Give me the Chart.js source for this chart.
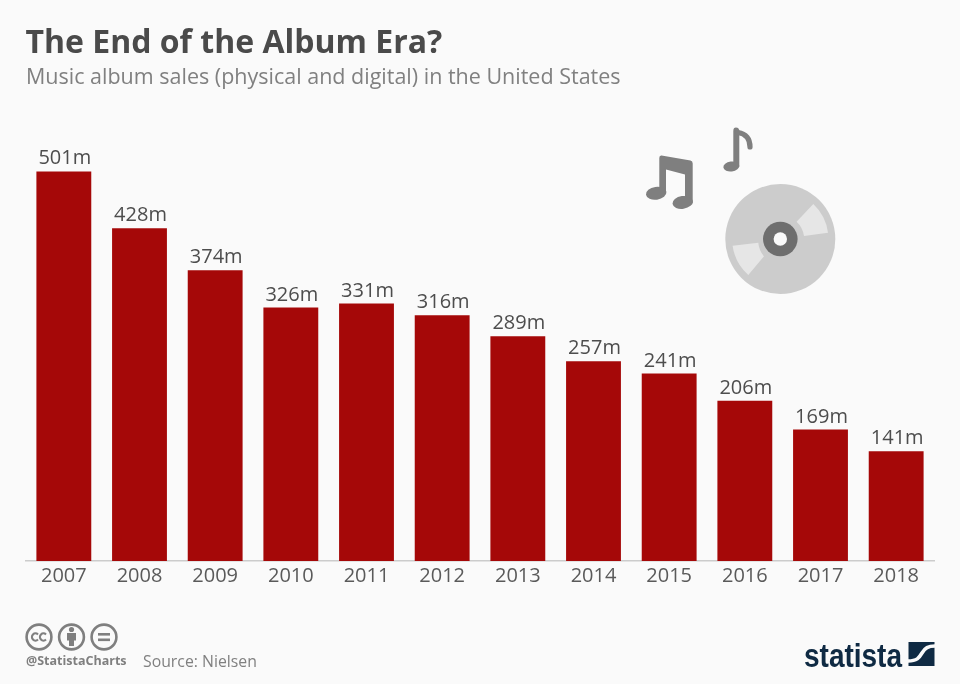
<!DOCTYPE html>
<html><head><meta charset="utf-8">
<script src="https://cdn.jsdelivr.net/npm/chart.js@4/dist/chart.umd.min.js"></script>
<style>
html,body{margin:0;padding:0;background:#fafafa;width:960px;height:684px;overflow:hidden;font-family:"Open Sans",sans-serif}
#wrap{position:relative;width:960px;height:684px}
canvas{position:absolute;left:0;top:0}
.t{position:absolute;white-space:nowrap;line-height:1}
svg{position:absolute;left:0;top:0}
</style></head><body>
<div id="wrap">
<canvas id="c" width="960" height="684"></canvas>
<div class="t" style="left:25.5px;top:25px;font-size:32px;font-weight:700;color:#4a4a4a">The End of the Album Era?</div>
<div class="t" style="left:26px;top:65px;font-size:21.5px;color:#808080">Music album sales (physical and digital) in the United States</div>
<div class="t" style="left:26px;top:655px;font-size:12.5px;font-weight:700;color:#7f7f7f">@StatistaCharts</div>
<div class="t" style="left:143px;top:654px;font-size:15.8px;color:#808080">Source: Nielsen</div>
<svg width="960" height="684" viewBox="0 0 960 684">
  <!-- disc -->
  <circle cx="780.3" cy="239" r="55" fill="#cccccc"/>
  <path d="M796.6 221.7 L813.3 204 A48 48 0 0 1 828 232.7 L804 236 A24 24 0 0 0 796.6 221.7Z" fill="#e6e6e6"/>
  <path d="M764 256.3 L748.3 275 A48 48 0 0 1 732.6 245.7 L758.3 242.7 A24 24 0 0 0 764 256.3Z" fill="#e6e6e6"/>
  <circle cx="780.3" cy="239" r="17.3" fill="#6e6e6e"/>
  <circle cx="780.3" cy="239" r="6.7" fill="#fafafa"/>
  <!-- double note -->
  <g fill="#7f7f7f">
    <path d="M659.3 158 Q659.3 155.2 661.5 155.5 L690.5 160.6 Q692.7 161 692.7 163.5 L692.7 203 L685 203 L685 174.5 L666 169.5 L666 193 L659.3 193Z"/>
    <ellipse cx="656.2" cy="193.3" rx="10.3" ry="6.4" transform="rotate(-8 656.2 193.3)"/>
    <ellipse cx="682.7" cy="202.4" rx="10.3" ry="6.4" transform="rotate(-8 682.7 202.4)"/>
    <!-- single note -->
    <path d="M733.3 131 Q733.3 127.6 736 127.6 Q738.5 127.6 739.3 130 L739.3 167 L733.3 167Z"/>
    <ellipse cx="731.3" cy="166.5" rx="8" ry="5" transform="rotate(-8 731.3 166.5)"/>
  </g>
  <path d="M738 132.5 Q750 134.5 750 147" fill="none" stroke="#7f7f7f" stroke-width="5.2" stroke-linecap="round"/>
  <!-- licence icons -->
  <g fill="none" stroke="#7f7f7f" stroke-width="2.6">
    <circle cx="39" cy="637" r="12.4"/>
    <circle cx="71.5" cy="637" r="12.4"/>
    <circle cx="104" cy="637" r="12.4"/>
    <path d="M38 634.4 A3.6 3.6 0 1 0 38 639.6" stroke-width="2.1"/>
    <path d="M46 634.4 A3.6 3.6 0 1 0 46 639.6" stroke-width="2.1"/>
  </g>
  <g fill="#7f7f7f">
    <circle cx="71.5" cy="629.5" r="2.6"/>
    <path d="M67 633 H76 V640.5 H74 V646 H69 V640.5 H67Z"/>
    <rect x="98" y="633" width="12" height="2.6"/>
    <rect x="98" y="638.5" width="12" height="2.6"/>
  </g>
  <!-- logo -->
  <text x="804" y="666.5" font-family="'Liberation Sans Narrow','Liberation Sans',sans-serif" font-weight="700" font-size="34" fill="#0f2a43" textLength="98" lengthAdjust="spacingAndGlyphs">statista</text>
  <rect x="908.5" y="642" width="26" height="24" fill="#0f2a43"/>
  <path d="M908 661 C917 661 919 658 922 653 C925 648 928 646 935 646" fill="none" stroke="#fafafa" stroke-width="3.6"/>
</svg>
</div>
<script>
const years = ["2007","2008","2009","2010","2011","2012","2013","2014","2015","2016","2017","2018"];
const sales = [501,428,374,326,331,316,289,257,241,206,169,141];
const unit = "m";
const barColor = "#a50808";

const valueLabels = {
  id: "valueLabels",
  afterDatasetsDraw(chart) {
    const ctx = chart.ctx, meta = chart.getDatasetMeta(0);
    ctx.save();
    ctx.font = '400 20px "Open Sans"';
    ctx.fillStyle = "#4d4d4d";
    ctx.textAlign = "center";
    ctx.textBaseline = "alphabetic";
    meta.data.forEach((bar, i) => ctx.fillText(sales[i] + unit, bar.x + 1, bar.y - 7));
    ctx.restore();
  }
};

new Chart(document.getElementById("c"), {
  type: "bar",
  data: { labels: years, datasets: [{ data: sales, backgroundColor: barColor, borderWidth: 0,
    categoryPercentage: 1, barPercentage: 0.725 }] },
  options: {
    responsive: false, animation: false, devicePixelRatio: 1,
    layout: { padding: { left: 26, right: 26, top: 110, bottom: 0 } },
    plugins: { legend: { display: false }, tooltip: { enabled: false }, title: { display: false } },
    scales: {
      y: { display: false, min: 0, max: 580 },
      x: {
        afterFit(s) { s.height = 123; },
        grid: { display: false, drawTicks: false },
        border: { display: true, color: "#cccccc", width: 1.5 },
        ticks: { color: "#5a5a5a", font: { family: '"Open Sans"', size: 20 }, padding: 3, maxRotation: 0, autoSkip: false }
      }
    }
  },
  plugins: [valueLabels]
});
</script>
</body></html>
